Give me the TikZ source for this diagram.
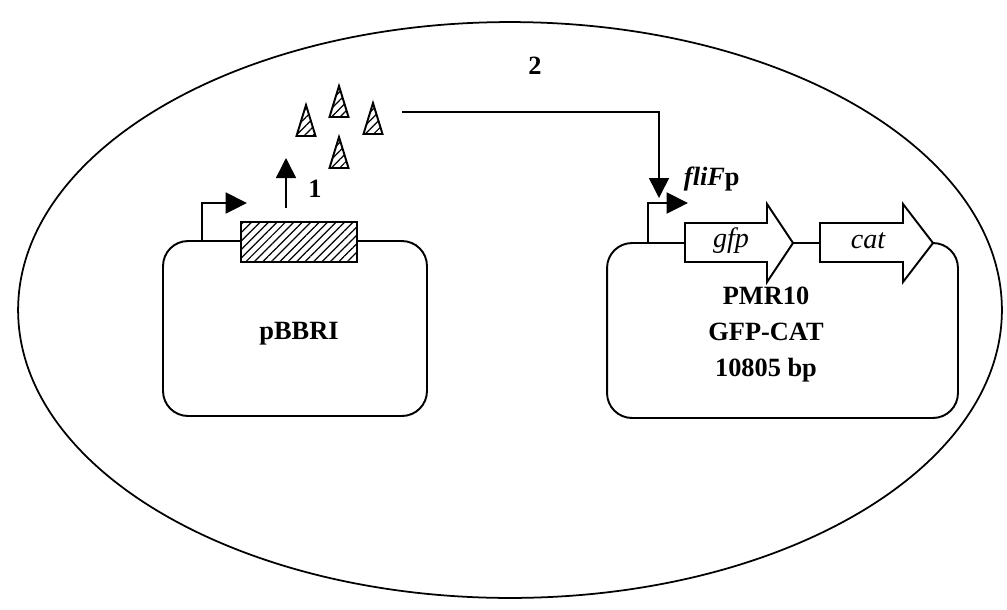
\documentclass[tikz,border=0pt]{standalone}
\usepackage{fontspec}
\setmainfont{Liberation Serif}
\usetikzlibrary{arrows.meta,patterns.meta}

\begin{document}
\begin{tikzpicture}[
  x=0.02cm, y=-0.02cm,
  line width=1.1pt,
  font=\fontsize{15}{20.5}\selectfont\bfseries,
  plasmid/.style={
    draw,
    rounded corners=0.5cm,
    minimum height=3.5cm,
    inner sep=0pt
  },
  hatched/.style={draw, preaction={fill=white}, pattern={Lines[angle=45,distance=3.4pt,line width=0.7pt]}, line width=1.1pt},
  genearrow/.style={draw, fill=white, line join=miter},
  genelabel/.style={font=\fontsize{16}{18}\selectfont\itshape},
  promarrow/.style={-{Triangle[length=0.43cm,width=0.42cm]}, line width=1.2pt},
  sigarrow/.style={-{Triangle[length=0.4cm,width=0.4cm]}, line width=0.9pt}
]
\useasboundingbox (0,0) rectangle (1007,609);

% cell
\draw[line width=1pt] (510,310) ellipse [x radius=9.84cm, y radius=5.76cm];

% plasmids
\node[plasmid, minimum width=5.28cm] (pbbr) at (295,328.5) {};
\node[plasmid, minimum width=7.02cm] (pmr) at (782.5,330.5) {};
\node (pbbrlabel) at (299,334) {pBBRI};
\node[align=center] (pmrlabel) at (766,335) {PMR10\\GFP-CAT\\10805 bp};

% left promoter and gene
\coordinate (promL) at (202,242);
\coordinate (promLtip) at (247,203);
\draw[promarrow] (promL) |- (promLtip);
\node[hatched, minimum width=2.32cm, minimum height=0.8cm, inner sep=0pt] (gene) at (299,242) {};

% step 1
\coordinate (syn) at (286,208);
\coordinate (synTip) at (286,158);
\draw[sigarrow] (syn) -- (synTip);
\node (one) at (315,189) {1};

% signal molecules
\foreach \ax/\ay in {306/105, 339/86, 373/103, 339/137}
  \draw[hatched] (\ax,\ay) -- (\ax+9.5,\ay+31) -- (\ax-9.5,\ay+31) -- cycle;

% step 2
\node (two) at (535,66) {2};
\coordinate (sig) at (402,112);
\coordinate (fliF) at (659,198);
\draw[sigarrow] (sig) -| (fliF);

% right promoter
\coordinate (promR) at (648,243);
\coordinate (promRtip) at (688,203);
\draw[promarrow] (promR) |- (promRtip);
\node[anchor=base west, inner sep=0pt] (promlabel) at (683,185) {\textit{fliF}p};

% reporter genes
\draw[genearrow] (685,223) -- (767,223) -- (767,204) -- (793,243) -- (767,282) -- (767,262) -- (685,262) -- cycle;
\node[genelabel] (gfp) at (731,241) {gfp};
\draw[genearrow] (820,223) -- (903,223) -- (903,204) -- (933,243) -- (903,282) -- (903,262) -- (820,262) -- cycle;
\node[genelabel] (cat) at (868,241) {cat};
\end{tikzpicture}
\end{document}
